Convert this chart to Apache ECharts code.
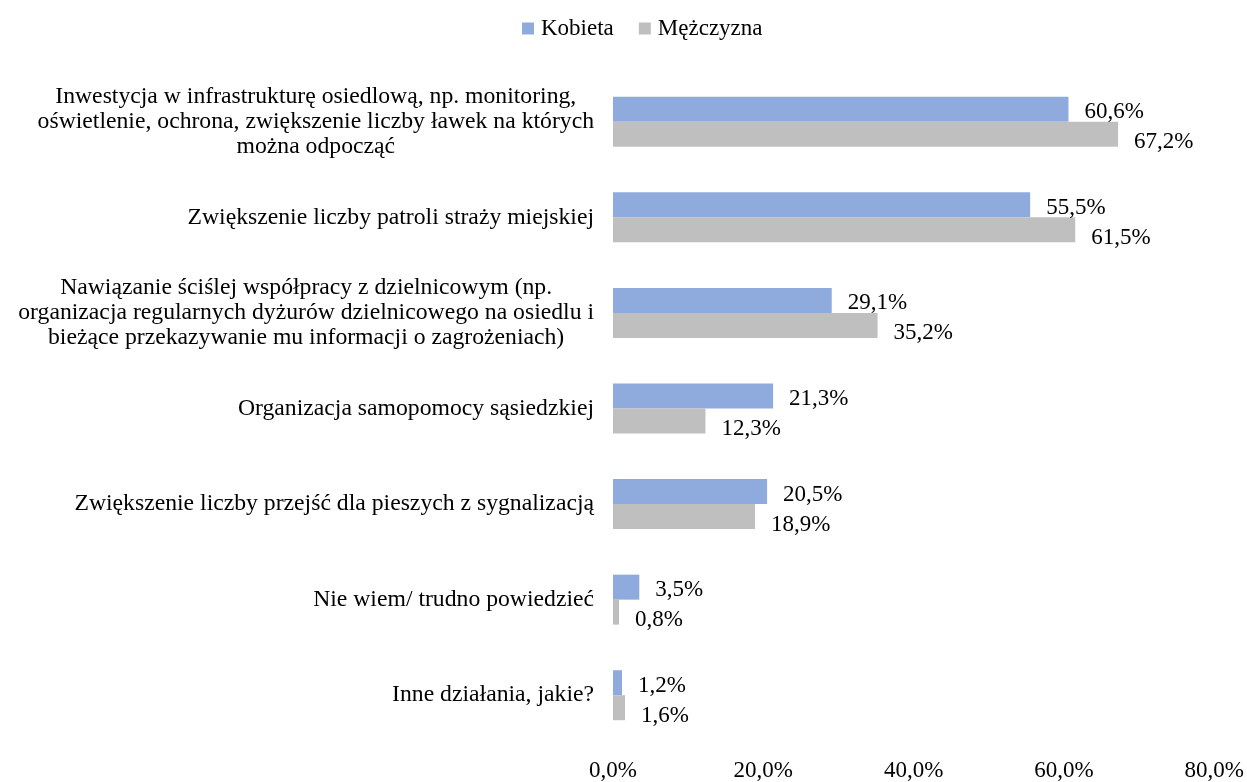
<!DOCTYPE html>
<html>
<head>
<meta charset="utf-8">
<script src="https://cdn.jsdelivr.net/npm/echarts@6/dist/echarts.min.js"></script>
<style>
html,body{margin:0;padding:0;background:#fff;}
#chart{width:1247px;height:782px;}
</style>
</head>
<body>
<div id="chart"></div>
<script>
// dane
var categories = [
    'Inwestycja w infrastrukturę osiedlową, np. monitoring,\noświetlenie, ochrona, zwiększenie liczby ławek na których\nmożna odpocząć',
    'Zwiększenie liczby patroli straży miejskiej',
    'Nawiązanie ściślej współpracy z dzielnicowym (np.\norganizacja regularnych dyżurów dzielnicowego na osiedlu i\nbieżące przekazywanie mu informacji o zagrożeniach)',
    'Organizacja samopomocy sąsiedzkiej',
    'Zwiększenie liczby przejść dla pieszych z sygnalizacją',
    'Nie wiem/ trudno powiedzieć',
    'Inne działania, jakie?'
];
var kobieta = [60.6, 55.5, 29.1, 21.3, 20.5, 3.5, 1.2];
var mezczyzna = [67.2, 61.5, 35.2, 12.3, 18.9, 0.8, 1.6];
var seriesNames = ['Kobieta', 'Mężczyzna'];
var ticks = [0, 20, 40, 60, 80];

function pct(v){
    return v.toFixed(1).replace('.', ',') + '%';
}

var chart = echarts.init(document.getElementById('chart'));
var font = '"Liberation Serif", "Times New Roman", serif';
var fs = 23;
var catFs = 23.7;
var option = {
    textStyle: {fontFamily: font, color: '#000'},
    legend: {
        data: seriesNames,
        top: 12,
        left: 517,
        icon: 'rect',
        itemWidth: 12,
        itemHeight: 12,
        itemGap: 25,
        textStyle: {fontFamily: font, fontSize: fs, color: '#000', padding: [0, 0, 0, 2]}
    },
    grid: {left: 613, right: 31, top: 74, bottom: 39, containLabel: false},
    xAxis: {
        type: 'value',
        min: ticks[0],
        max: ticks[ticks.length - 1],
        interval: 20,
        splitLine: {show: false},
        axisLine: {show: false},
        axisTick: {show: false},
        axisLabel: {
            margin: 16,
            fontFamily: font,
            fontSize: fs,
            color: '#000',
            formatter: function(v){ return pct(v); }
        }
    },
    yAxis: {
        type: 'category',
        inverse: true,
        data: categories,
        axisLine: {show: false},
        axisTick: {show: false},
        axisLabel: {
            margin: 19,
            fontFamily: font,
            fontSize: catFs,
            color: '#000',
            lineHeight: 25,
            formatter: function(v){
                return v.split('\n').map(function(l){ return '{c|' + l + '}'; }).join('\n');
            },
            rich: {
                c: {align: 'center', fontFamily: font, fontSize: catFs, lineHeight: 25, color: '#000'}
            }
        }
    },
    series: [
        {
            name: seriesNames[0],
            type: 'bar',
            data: kobieta,
            barWidth: 25,
            barGap: '0%',
            itemStyle: {color: '#8FAADC'},
            label: {
                show: true,
                position: 'right',
                distance: 16,
                offset: [0, 3],
                fontFamily: font,
                fontSize: fs,
                color: '#000',
                formatter: function(p){ return pct(p.value); }
            }
        },
        {
            name: seriesNames[1],
            type: 'bar',
            data: mezczyzna,
            barWidth: 25,
            barGap: '0%',
            itemStyle: {color: '#BFBFBF'},
            label: {
                show: true,
                position: 'right',
                distance: 16,
                offset: [0, 8],
                fontFamily: font,
                fontSize: fs,
                color: '#000',
                formatter: function(p){ return pct(p.value); }
            }
        }
    ]
};
chart.setOption(option);
</script>
</body>
</html>
